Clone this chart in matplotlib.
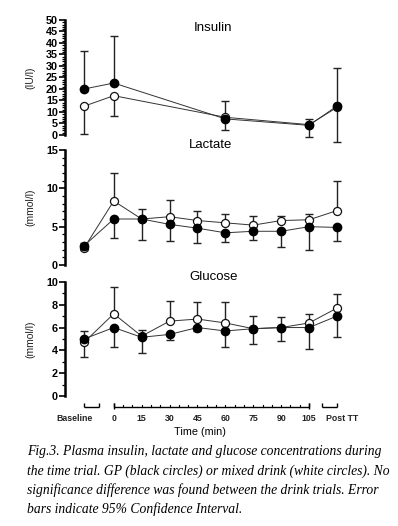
import numpy as np
import matplotlib
matplotlib.use("Agg")
import matplotlib.pyplot as plt

# ---------------- data ----------------
x_ins = [-16, 0, 60, 105, 120]
ins_gp = [20.0, 22.6, 7.0, 4.2, 12.6]
ins_mix = [12.5, 17.1, 7.7, 4.5, 12.0]
ins_ci_hi = [36.7, 43.0, 14.6, 7.0, 29.0]
ins_ci_lo = [0.5, 8.1, 2.2, -0.9, -3.0]
ins_hi_gp = [True, True, True, True, True]

x_full = [-16, 0, 15, 30, 45, 60, 75, 90, 105, 120]
lac_gp = [2.5, 6.0, 6.0, 5.3, 4.8, 4.2, 4.4, 4.4, 5.0, 4.9]
lac_mix = [2.2, 8.35, 6.0, 6.3, 5.8, 5.5, 5.2, 5.8, 5.9, 7.1]
lac_ci_hi = [2.9, 12.0, 7.35, 8.5, 7.0, 6.6, 6.4, 6.4, 6.6, 11.0]
lac_ci_lo = [2.0, 3.5, 3.3, 3.1, 2.9, 3.0, 3.2, 2.4, 2.0, 3.1]
lac_hi_gp = [True, False, False, False, False, False, False, False, False, False]

glu_gp = [5.0, 6.0, 5.15, 5.4, 6.0, 5.7, 5.9, 6.0, 6.0, 7.0]
glu_mix = [4.7, 7.2, 5.25, 6.56, 6.74, 6.4, 5.9, 6.0, 6.4, 7.7]
glu_ci_hi = [5.7, 9.5, 5.75, 8.3, 8.25, 8.2, 7.05, 6.95, 7.15, 8.9]
glu_ci_lo = [3.45, 4.3, 3.75, 4.9, 5.7, 4.3, 4.55, 4.85, 4.1, 5.15]
glu_hi_gp = [True, False, False, False, False, False, False, False, False, False]

x_tick_pos = [-16, 0, 15, 30, 45, 60, 75, 90, 105, 120]
x_tick_lab = ["Baseline", "0", "15", "30", "45", "60", "75", "90", "105", "Post TT"]

caption = ["Fig.3. Plasma insulin, lactate and glucose concentrations during",
           "the time trial. GP (black circles) or mixed drink (white circles). No",
           "significance difference was found between the drink trials. Error",
           "bars indicate 95% Confidence Interval."]

# ---------------- figure ----------------
W, H = 398, 526
fig = plt.figure(figsize=(W / 100, H / 100), dpi=100)
fig.patch.set_facecolor("white")

sans = ["Liberation Sans", "DejaVu Sans"]
XL = (-26.2, 124.3)
left, width = 65 / W, 280 / W


def px_axes(top_px, bottom_px):
    return fig.add_axes([left, 1 - bottom_px / H, width, (bottom_px - top_px) / H])


def panel(ax, x, gp, mix, hi, lo, hi_gp, ylim, major, minor, ylabel, title, title_xy):
    gp = np.array(gp); mix = np.array(mix)
    hi = np.array(hi); lo = np.array(lo); hi_gp = np.array(hi_gp)
    # one-sided error bars: upper from series owning the upper bound
    gp_up = np.where(hi_gp, hi - gp, 0)
    gp_dn = np.where(~hi_gp, gp - lo, 0)
    mix_up = np.where(~hi_gp, hi - mix, 0)
    mix_dn = np.where(hi_gp, mix - lo, 0)
    ebkw = dict(ecolor="#222222", elinewidth=1.0, capsize=2.6, capthick=1.0, clip_on=False)
    ax.errorbar(x, mix, yerr=[mix_dn, mix_up], fmt="none", zorder=2, **ebkw)
    ax.errorbar(x, gp, yerr=[gp_dn, gp_up], fmt="none", zorder=2, **ebkw)
    ax.plot(x, mix, "-", color="#333333", lw=0.7, zorder=3, clip_on=False)
    ax.plot(x, gp, "-", color="#333333", lw=0.7, zorder=3, clip_on=False)
    ax.plot(x, mix, "o", ms=5.8, mfc="white", mec="#111111", mew=0.9, zorder=4, clip_on=False)
    ax.plot(x, gp, "o", ms=6.0, mfc="black", mec="black", zorder=5, clip_on=False)
    ax.set_xlim(*XL)
    ax.set_ylim(*ylim)
    ax.set_yticks(major)
    ax.set_yticks(minor, minor=True)
    ax.tick_params(axis="y", which="major", length=4, width=1.2, pad=1, labelsize=7.8)
    ax.tick_params(axis="y", which="minor", length=2.5, width=0.9)
    for lab in ax.get_yticklabels():
        lab.set_family(sans); lab.set_fontweight("bold")
    ax.set_xticks([])
    for s in ["top", "right", "bottom"]:
        ax.spines[s].set_visible(False)
    ax.spines["left"].set_linewidth(1.8)
    ax.patch.set_alpha(0)
    ax.set_ylabel(ylabel, family=sans, fontsize=7.5, labelpad=6, color="#222222")
    fig.text(title_xy[0] / W, 1 - title_xy[1] / H, title, family=sans, fontsize=9.5,
             ha="center", va="center")


ax1 = px_axes(20, 135)
panel(ax1, x_ins, ins_gp, ins_mix, ins_ci_hi, ins_ci_lo, ins_hi_gp, (0, 50),
      np.arange(0, 51, 5), np.arange(0, 51, 1), "(IU/l)", "Insulin", (213, 28))

ax2 = px_axes(150, 265)
panel(ax2, x_full, lac_gp, lac_mix, lac_ci_hi, lac_ci_lo, lac_hi_gp, (0, 15),
      [0, 5, 10, 15], np.arange(0, 16, 1), "(mmol/l)", "Lactate", (211, 145))

ax3 = px_axes(281.7, 396.3)
panel(ax3, x_full, glu_gp, glu_mix, glu_ci_hi, glu_ci_lo, glu_hi_gp, (0, 10),
      np.arange(0, 11, 2), np.arange(0, 11, 1), "(mmol/l)", "Glucose", (214, 277))

for ax in (ax1, ax2, ax3):
    ax.yaxis.set_label_coords(-0.105, 0.5)

# ---------------- segmented x axis ----------------
tr = ax3.get_xaxis_transform()
ax_h = (396.3 - 281.7)
y_axis = -(406.7 - 396.3) / ax_h
tk_up = 4.0 / ax_h
tk_mn = 2.0 / ax_h
kw = dict(color="black", lw=1.0, transform=tr, clip_on=False, solid_capstyle="butt")
segments = [(-16, -8), (0, 105), (112, 120)]
for a, b in segments:
    ax3.plot([a, b], [y_axis, y_axis], **kw)
    ax3.plot([a, a], [y_axis, y_axis + tk_up], **kw)
    ax3.plot([b, b], [y_axis, y_axis + tk_up], **kw)
ax3.plot([0, 0], [y_axis - tk_mn, y_axis + tk_up], **kw)
ax3.plot([105, 105], [y_axis - tk_mn, y_axis + tk_up], **kw)
for m in range(5, 105, 5):
    ax3.plot([m, m], [y_axis, y_axis + tk_mn], color="black", lw=0.8, transform=tr, clip_on=False)

y_lab = -(418.5 - 396.3) / ax_h
offsets = {"Baseline": -5, "Post TT": 3}
for p, t in zip(x_tick_pos, x_tick_lab):
    ax3.text(p + offsets.get(t, 0), y_lab, t, transform=tr, ha="center", va="center",
             family=sans, fontsize=6.3, fontweight="bold", color="#222222")
fig.text(200 / W, 1 - 432 / H, "Time (min)", family=sans, fontsize=7.8, ha="center", va="center")

# ---------------- caption ----------------
serif = ["Liberation Serif", "DejaVu Serif"]
cap_y = [452, 471, 490, 509]
fs = 10.0
t0 = fig.text(27 / W, 1 - cap_y[0] / H, caption[0], family=serif, style="italic", fontsize=fs,
              ha="left", va="center")
fig.canvas.draw()
w0 = t0.get_window_extent().width
fs = fs * 357.0 / w0
t0.set_fontsize(fs)
for line, yy in zip(caption[1:], cap_y[1:]):
    fig.text(27 / W, 1 - yy / H, line, family=serif, style="italic", fontsize=fs,
             ha="left", va="center")

fig.savefig("out.png", dpi=100)
